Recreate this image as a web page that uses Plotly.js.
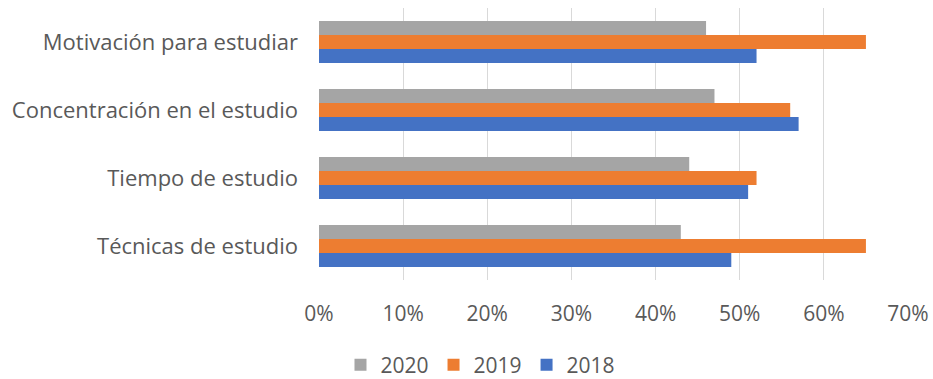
<!DOCTYPE html>
<html>
<head>
<meta charset="utf-8">
<script src="https://cdn.plot.ly/plotly-3.0.1.min.js"></script>
<style>html,body{margin:0;padding:0;background:#fff;}#chart{width:933px;height:379px;}</style>
</head>
<body>
<div id="chart"></div>
<script>
// categories listed bottom-to-top
const categories = ["Técnicas de estudio", "Tiempo de estudio", "Concentración en el estudio", "Motivación para estudiar"];
const values2018 = [0.49, 0.51, 0.57, 0.52];
const values2019 = [0.65, 0.52, 0.56, 0.65];
const values2020 = [0.43, 0.44, 0.47, 0.46];
const tickVals = [0, 0.1, 0.2, 0.3, 0.4, 0.5, 0.6, 0.7];
const tickText = ["0%", "10%", "20%", "30%", "40%", "50%", "60%", "70%"];

const font = {family: "'Open Sans', sans-serif", size: 21, color: "#595959"};
const yFont = {family: "'Open Sans', sans-serif", size: 22, color: "#595959"};

const traces = [
  {type: "bar", orientation: "h", name: "2018", y: categories, x: values2018, marker: {color: "#4472c4"}},
  {type: "bar", orientation: "h", name: "2019", y: categories, x: values2019, marker: {color: "#ed7d31"}},
  {type: "bar", orientation: "h", name: "2020", y: categories, x: values2020, marker: {color: "#a5a5a5"}}
];

const layout = {
  width: 933, height: 379,
  margin: {l: 319, r: 25, t: 8, b: 99},
  barmode: "group",
  bargap: 0.38,
  bargroupgap: 0,
  paper_bgcolor: "#fff",
  plot_bgcolor: "#fff",
  font: font,
  xaxis: {
    range: [0, 0.7],
    tickvals: tickVals,
    ticktext: tickText,
    showgrid: true,
    gridcolor: "#d9d9d9",
    gridwidth: 1,
    zeroline: false,
    showline: false,
    ticks: "",
    ticklabelstandoff: 19,
    tickfont: font,
    fixedrange: true
  },
  yaxis: {
    type: "category",
    showgrid: false,
    zeroline: false,
    showline: false,
    ticks: "",
    ticklabelstandoff: 20,
    tickfont: yFont
  },
  showlegend: true,
  legend: {
    orientation: "h",
    traceorder: "reversed",
    xref: "container", yref: "container",
    x: 0.515, xanchor: "center",
    y: 0.037, yanchor: "middle",
    font: font,
    itemwidth: 30
  }
};

Plotly.newPlot("chart", traces, layout, {displayModeBar: false, staticPlot: true});
</script>
</body>
</html>
